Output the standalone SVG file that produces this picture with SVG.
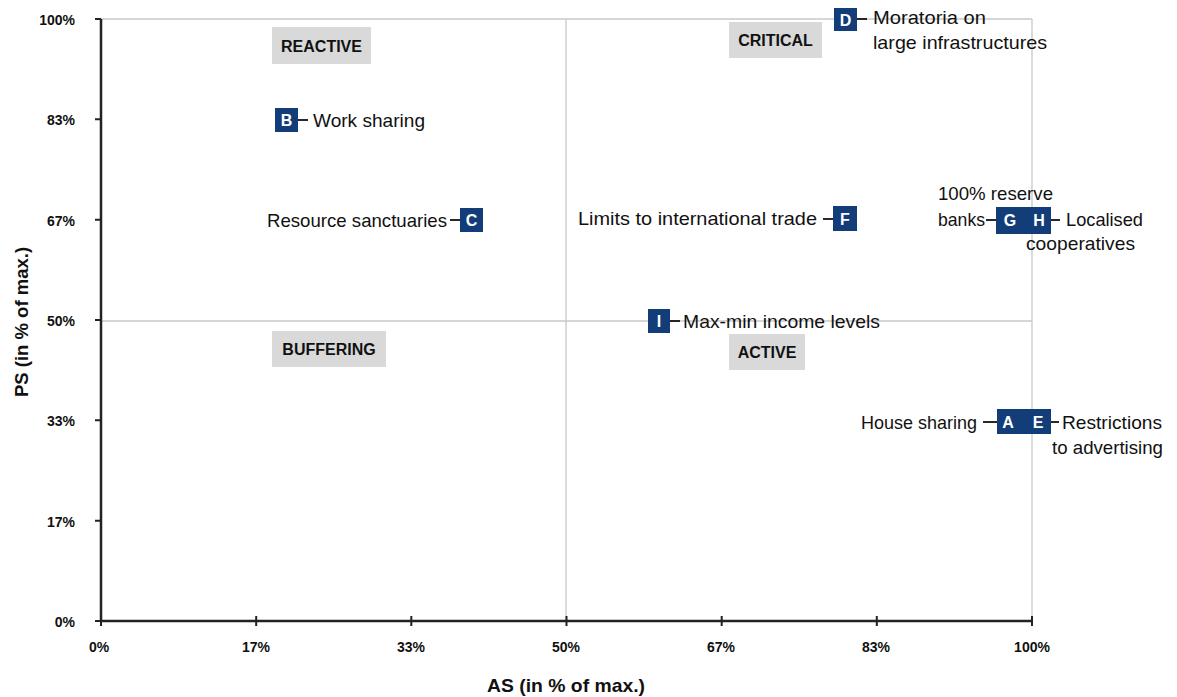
<svg xmlns="http://www.w3.org/2000/svg" width="1177" height="697" viewBox="0 0 1177 697">
<style>
.t{font-family:"Liberation Sans",Arial,sans-serif;font-size:19px;fill:#111}
.ax{font-family:"Liberation Sans",Arial,sans-serif;font-size:14px;font-weight:bold;fill:#111}
.ttl{font-family:"Liberation Sans",Arial,sans-serif;font-size:18.5px;font-weight:bold;fill:#111}
.q{font-family:"Liberation Sans",Arial,sans-serif;font-size:16px;font-weight:bold;fill:#111;text-anchor:middle}
.qb{fill:#d9d9d9}
.m{fill:#123d78}
.ml{font-family:"Liberation Sans",Arial,sans-serif;font-size:16px;font-weight:bold;fill:#fff;text-anchor:middle}
.grid{stroke:#c8c8c8;stroke-width:1.3;fill:none}
.axis{stroke:#222;stroke-width:2.5;fill:none}
.tick{stroke:#222;stroke-width:2;fill:none}
.c{stroke:#111;stroke-width:1.8;fill:none}
</style>
<rect width="1177" height="697" fill="#fff"/>
<g id="grid">
<line class="grid" x1="101" y1="19" x2="1032" y2="19"/>
<line class="grid" x1="1032" y1="19" x2="1032" y2="621"/>
<line class="grid" x1="566" y1="19" x2="566" y2="621"/>
<line class="grid" x1="101" y1="321" x2="1032" y2="321"/>
</g>
<g id="axes">
<line class="axis" x1="101" y1="19" x2="101" y2="622"/>
<line class="axis" x1="100" y1="621" x2="1033" y2="621"/>
<path class="tick" d="M95 19H101M95 119.3H101M95 219.7H101M95 320H101M95 420.3H101M95 520.7H101M95 621H101"/>
<path class="tick" d="M101 616V626M256.2 616V626M411.3 616V626M566.5 616V626M721.7 616V626M876.8 616V626M1032 616V626"/>
<g class="ax" text-anchor="end">
<text x="75" y="25">100%</text>
<text x="75" y="125">83%</text>
<text x="75" y="226">67%</text>
<text x="75" y="326">50%</text>
<text x="75" y="426">33%</text>
<text x="75" y="527">17%</text>
<text x="75" y="627">0%</text>
</g>
<g class="ax" text-anchor="middle">
<text x="99" y="652">0%</text>
<text x="256" y="652">17%</text>
<text x="411" y="652">33%</text>
<text x="566" y="652">50%</text>
<text x="721" y="652">67%</text>
<text x="876" y="652">83%</text>
<text x="1032" y="652">100%</text>
</g>
<text class="ttl" x="566" y="692" text-anchor="middle" textLength="158" lengthAdjust="spacingAndGlyphs">AS (in % of max.)</text>
<text class="ttl" transform="translate(28,322) rotate(-90)" text-anchor="middle">PS (in % of max.)</text>
</g>
<g id="q-reactive"><rect class="qb" x="272" y="27" width="99" height="37"/><text class="q" x="321.5" y="52">REACTIVE</text></g>
<g id="q-critical"><rect class="qb" x="729" y="22" width="93" height="36"/><text class="q" x="775.5" y="46">CRITICAL</text></g>
<g id="q-buffering"><rect class="qb" x="272" y="331" width="114" height="36"/><text class="q" x="329" y="355">BUFFERING</text></g>
<g id="q-active"><rect class="qb" x="729" y="334" width="76" height="36"/><text class="q" x="767" y="358">ACTIVE</text></g>
<g id="connectors">
<line class="c" x1="298" y1="120" x2="308" y2="120"/>
<line class="c" x1="450" y1="220" x2="460" y2="220"/>
<line class="c" x1="857" y1="19" x2="867" y2="19"/>
<line class="c" x1="823" y1="219" x2="833" y2="219"/>
<line class="c" x1="986" y1="220" x2="996" y2="220"/>
<line class="c" x1="1051" y1="220" x2="1060" y2="220"/>
<line class="c" x1="670" y1="321" x2="680" y2="321"/>
<line class="c" x1="983" y1="422" x2="997" y2="422"/>
<line class="c" x1="1051" y1="422" x2="1059" y2="422"/>
</g>
<g id="B"><rect class="m" x="275" y="108" width="23" height="24"/><text class="ml" x="286.5" y="126">B</text><text class="t" x="313" y="127" textLength="112" lengthAdjust="spacingAndGlyphs">Work sharing</text></g>
<g id="C"><rect class="m" x="460" y="208" width="23" height="24"/><text class="ml" x="471.5" y="226">C</text><text class="t" x="267" y="227" textLength="180" lengthAdjust="spacingAndGlyphs">Resource sanctuaries</text></g>
<g id="D"><rect class="m" x="834" y="8" width="23" height="23"/><text class="ml" x="845.5" y="25.5">D</text><text class="t" x="873" y="24" textLength="113" lengthAdjust="spacingAndGlyphs">Moratoria on</text><text class="t" x="873" y="49" textLength="174" lengthAdjust="spacingAndGlyphs">large infrastructures</text></g>
<g id="F"><rect class="m" x="833" y="206" width="24" height="25"/><text class="ml" x="845" y="225">F</text><text class="t" x="578" y="225" textLength="239" lengthAdjust="spacingAndGlyphs">Limits to international trade</text></g>
<g id="GH"><rect class="m" x="996" y="207" width="55" height="27"/><text class="ml" x="1010" y="226">G</text><text class="ml" x="1039" y="226">H</text><text class="t" x="938" y="200" textLength="115" lengthAdjust="spacingAndGlyphs">100% reserve</text><text class="t" x="938" y="226" textLength="47" lengthAdjust="spacingAndGlyphs">banks</text><text class="t" x="1066" y="226" textLength="77" lengthAdjust="spacingAndGlyphs">Localised</text><text class="t" x="1026" y="250" textLength="109" lengthAdjust="spacingAndGlyphs">cooperatives</text></g>
<g id="I"><rect class="m" x="648" y="309" width="22" height="24"/><text class="ml" x="659" y="327">I</text><text class="t" x="683" y="328" textLength="197" lengthAdjust="spacingAndGlyphs">Max-min income levels</text></g>
<g id="AE"><rect class="m" x="997" y="409" width="54" height="25"/><text class="ml" x="1008" y="428">A</text><text class="ml" x="1038" y="428">E</text><text class="t" x="861" y="429" textLength="116" lengthAdjust="spacingAndGlyphs">House sharing</text><text class="t" x="1062" y="429" textLength="100" lengthAdjust="spacingAndGlyphs">Restrictions</text><text class="t" x="1052" y="454" textLength="111" lengthAdjust="spacingAndGlyphs">to advertising</text></g>
</svg>
